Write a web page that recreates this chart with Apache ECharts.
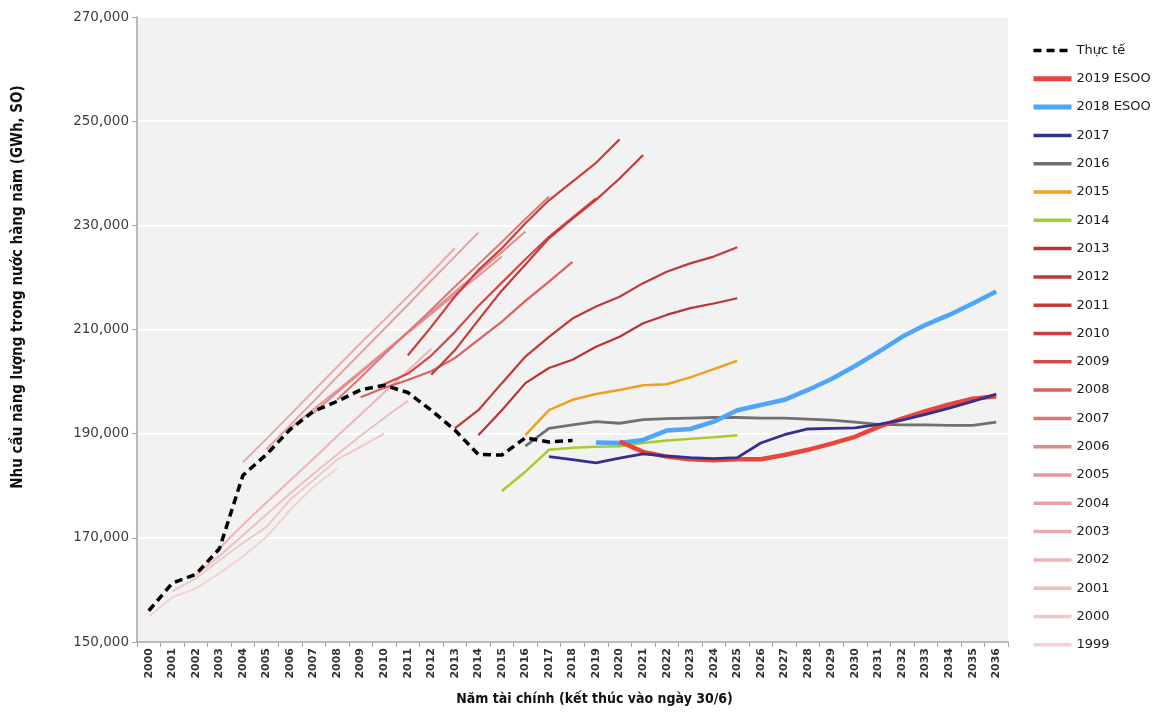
<!DOCTYPE html>
<html><head><meta charset="utf-8">
<script src="https://cdn.jsdelivr.net/npm/echarts@6/dist/echarts.min.js"></script>
<style>html,body{margin:0;padding:0;background:#fff}#c{width:1165px;height:713px}</style>
</head><body><div id="c"></div>
<script>
const years = ['2000','2001','2002','2003','2004','2005','2006','2007','2008','2009','2010','2011','2012','2013','2014','2015','2016','2017','2018','2019','2020','2021','2022','2023','2024','2025','2026','2027','2028','2029','2030','2031','2032','2033','2034','2035','2036'];
const yTicks = [150000,170000,190000,210000,230000,250000,270000];

// Actual (Thực tế), from 2000
const actual = [156000,161300,163000,167900,182000,186000,190800,194300,196200,198400,199300,197900,194500,190700,186000,185900,189200,188400,188700];
// Forecasts: [first year, values...]
const fc1999 = [2000, 154900,158600,160300,163200,166400,170200,175300,179800,183300];
const fc2000 = [2001, 159700,162200,165700,169000,172100,177300,181100,185000,187500,190000];
const fc2001 = [2002, 162800,166500,170500,174500,178500,182300,186000,189600,193000,196300];
const fc2002 = [2003, 168000,172500,176800,181000,185200,189500,193700,197900,202100,206300];
const fc2003 = [2004, 184500,189000,193600,198200,202800,207400,211800,216300,220900,225600];
const fc2004 = [2005, 187000,191600,196200,200900,205500,210100,214700,219400,224000,228600];
const fc2005 = [2006, 191000,194700,198300,202000,205700,209300,213000,216700,220300,224000];
const fc2006 = [2007, 194000,197900,201700,205600,209500,213300,217200,221000,224900,228800];
const fc2007 = [2008, 196500,200800,205200,209500,213800,218200,222500,226800,231200,235500];
const fc2008 = [2009, 197000,198800,200300,202000,204500,208000,211500,215500,219200,223000];
const fc2009 = [2010, 199500,201500,205000,209500,214500,219000,223500,227800,231500,235200];
const fc2010 = [2011, 205000,210500,216300,221400,225600,230400,234800,238400,242000,246500];
const fc2011 = [2012, 201300,206000,211800,217500,222500,227500,231300,234900,239000,243500];
const fc2012 = [2013, 191000,194500,199700,204800,208600,212100,214400,216300,218900,221100,222700,224000,225800];
const fc2013 = [2014, 189700,194500,199700,202600,204200,206700,208600,211200,212800,214100,215000,216000];
const fc2014 = [2015, 179000,182700,186900,187300,187500,187600,188200,188700,189000,189300,189700];
const fc2015 = [2016, 189700,194500,196500,197600,198400,199300,199500,200800,202400,204000];
const fc2016 = [2016, 187600,191000,191700,192300,192000,192700,192900,193000,193100,193100,193000,193000,192800,192600,192200,191800,191700,191700,191600,191600,192200];
const fc2017 = [2017, 185600,185000,184400,185300,186100,185700,185400,185200,185400,188200,189800,190900,191000,191100,191800,192600,193700,194900,196200,197600];
const esoo2018 = [2019, 188300,188200,188800,190600,190900,192300,194500,195500,196500,198400,200500,203000,205700,208600,210900,212800,215000,217300];
const esoo2019 = [2020, 188500,186500,185600,185100,184900,185100,185100,185900,186900,188100,189400,191300,192900,194300,195600,196700,197200];

function place(arr){
  const start = arr[0], vals = arr.slice(1);
  return years.map(y => { const i = +y - start; return (i >= 0 && i < vals.length) ? vals[i] : null; });
}

const FONT = "'DejaVu Sans', sans-serif";
const NARROW = "'Liberation Sans Narrow','DejaVu Sans Condensed','Liberation Sans',sans-serif";

const defs = [
  ['1999', fc1999, '#f3d2d2', 2],
  ['2000', fc2000, '#f1c8c8', 2],
  ['2001', fc2001, '#efbfbf', 2],
  ['2002', fc2002, '#edb5b5', 2],
  ['2003', fc2003, '#eaabab', 2],
  ['2004', fc2004, '#e8a1a1', 2],
  ['2005', fc2005, '#e69696', 2],
  ['2006', fc2006, '#e38a8a', 2],
  ['2007', fc2007, '#df7575', 2],
  ['2008', fc2008, '#da6262', 2.2],
  ['2009', fc2009, '#d24a4a', 2.2],
  ['2010', fc2010, '#cc3e3e', 2.2],
  ['2011', fc2011, '#c83a3a', 2.2],
  ['2012', fc2012, '#c23737', 2.2],
  ['2013', fc2013, '#b93434', 2.2],
  ['2014', fc2014, '#a4cc2c', 2.5],
  ['2015', fc2015, '#f0a020', 2.5],
  ['2016', fc2016, '#707070', 2.8],
  ['2018 ESOO', esoo2018, '#4da6f7', 4.5],
  ['2019 ESOO', esoo2019, '#e8453c', 4.5],
  ['2017', fc2017, '#33308f', 2.8]
];

const series = defs.map(d => ({
  name: d[0], type: 'line', data: place(d[1]), symbol: 'none', showSymbol: false,
  connectNulls: false, lineStyle: { color: d[2], width: d[3] }, itemStyle: { color: d[2] },
  emphasis: { disabled: true }
}));
series.push({
  name: 'Thực tế', type: 'line', data: place([2000].concat(actual)), symbol: 'none',
  lineStyle: { color: '#000', width: 3.5, type: [8, 5] }, itemStyle: { color: '#000' },
  emphasis: { disabled: true }
});

const legendOrder = ['Thực tế','2019 ESOO','2018 ESOO','2017','2016','2015','2014','2013','2012','2011','2010','2009','2008','2007','2006','2005','2004','2003','2002','2001','2000','1999'];
const legendItems = legendOrder.map(n => ({
  name: n,
  lineStyle: { width: (n.indexOf('ESOO') >= 0) ? 5 : 3.5 }
}));

const chart = echarts.init(document.getElementById('c'), null, { renderer: 'canvas' });
chart.setOption({
  animation: false,
  backgroundColor: '#fff',
  grid: { left: 137, right: 157, top: 17, bottom: 71, show: true, backgroundColor: '#f2f2f2', borderWidth: 0 },
  legend: {
    data: legendItems, orient: 'vertical', left: 1026, top: 39,
    itemWidth: 38, itemHeight: 14, itemGap: 15.3,
    itemStyle: { opacity: 0, color: 'transparent', borderWidth: 0 },
    lineStyle: { width: 'inherit' },
    textStyle: { fontFamily: FONT, fontSize: 13, color: '#1a1a1a' }
  },
  xAxis: {
    type: 'category', data: years, boundaryGap: true,
    name: 'Năm tài chính (kết thúc vào ngày 30/6)', nameLocation: 'middle', nameGap: 50,
    nameTextStyle: { fontFamily: NARROW, fontWeight: 'bold', fontSize: 14, color: '#111', padding: [0, 0, 0, 44] },
    axisLine: { lineStyle: { color: '#a6a6a6', width: 1.5 } },
    axisTick: { show: true, interval: 0, length: 5, lineStyle: { color: '#a6a6a6' } },
    axisLabel: { rotate: 90, interval: 0, fontFamily: FONT, fontWeight: 'bold', fontSize: 11, color: '#333', margin: 6 },
    splitLine: { show: false }
  },
  yAxis: {
    type: 'value', min: yTicks[0], max: yTicks[yTicks.length - 1], interval: 20000,
    name: 'Nhu cầu năng lượng trong nước hàng năm (GWh, SO)', nameLocation: 'middle', nameGap: 111,
    nameTextStyle: { fontFamily: NARROW, fontWeight: 'bold', fontSize: 15, color: '#111', padding: [0, 0, 0, 85] },
    axisLine: { show: true, lineStyle: { color: '#a6a6a6', width: 1.5 } },
    axisTick: { show: true, length: 5, lineStyle: { color: '#a6a6a6' } },
    axisLabel: { fontFamily: FONT, fontSize: 13.5, color: '#404040', margin: 8,
      formatter: v => v.toLocaleString('en-US') },
    splitLine: { show: true, lineStyle: { color: '#ffffff', width: 2 } }
  },
  series: series
});
</script></body></html>
